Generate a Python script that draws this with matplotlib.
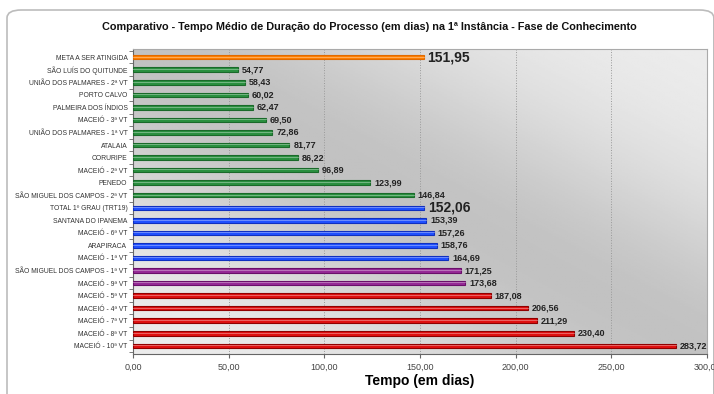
import matplotlib
matplotlib.use("Agg")
import matplotlib.pyplot as plt
import numpy as np
from matplotlib.patches import FancyBboxPatch

plt.rcParams["font.family"] = ["Liberation Sans", "DejaVu Sans"]

LABELS = [
    "META A SER ATINGIDA",
    "SÃO LUÍS DO QUITUNDE",
    "UNIÃO DOS PALMARES - 2ª VT",
    "PORTO CALVO",
    "PALMEIRA DOS ÍNDIOS",
    "MACEIÓ - 3ª VT",
    "UNIÃO DOS PALMARES - 1ª VT",
    "ATALAIA",
    "CORURIPE",
    "MACEIÓ - 2ª VT",
    "PENEDO",
    "SÃO MIGUEL DOS CAMPOS - 2ª VT",
    "TOTAL 1º GRAU (TRT19)",
    "SANTANA DO IPANEMA",
    "MACEIÓ - 6ª VT",
    "ARAPIRACA",
    "MACEIÓ - 1ª VT",
    "SÃO MIGUEL DOS CAMPOS - 1ª VT",
    "MACEIÓ - 9ª VT",
    "MACEIÓ - 5ª VT",
    "MACEIÓ - 4ª VT",
    "MACEIÓ - 7ª VT",
    "MACEIÓ - 8ª VT",
    "MACEIÓ - 10ª VT",
]
VALUES = [151.95, 54.77, 58.43, 60.02, 62.47, 69.50, 72.86, 81.77, 86.22, 96.89,
          123.99, 146.84, 152.06, 153.39, 157.26, 158.76, 164.69, 171.25, 173.68,
          187.08, 206.56, 211.29, 230.40, 283.72]
GROUPS = (["meta"] + ["green"] * 11 + ["blue"] * 5 + ["purple"] * 2 + ["red"] * 5)
HIGHLIGHT = {"META A SER ATINGIDA", "TOTAL 1º GRAU (TRT19)"}
XTICKS = [0, 50, 100, 150, 200, 250, 300]

COLORS = {
    "meta": ("#ff7f00", "#e06a00"),
    "green": ("#2a9040", "#1a6a2a"),
    "blue": ("#2050ff", "#1030c0"),
    "purple": ("#962a96", "#6a106a"),
    "red": ("#e01010", "#900000"),
}


def fmt(v):
    return f"{v:.2f}".replace(".", ",")


fig = plt.figure(figsize=(7.14, 3.94), dpi=100)
fig.patches.append(FancyBboxPatch((7 / 714, -0.05), 0.99, 1 - 10 / 394 + 0.05,
                                  boxstyle="round,pad=0,rounding_size=0.02",
                                  transform=fig.transFigure, facecolor="white",
                                  edgecolor="#bcbcbc", linewidth=1.2, zorder=-5))

ax = fig.add_axes([133 / 714, 1 - 354 / 394, 574 / 714, 305 / 394])

# diagonal gradient background
gx, gy = np.meshgrid(np.linspace(0, 1, 200), np.linspace(0, 1, 200))
u = (gx + gy) / 2
shade = 0.93 - 0.17 * np.exp(-((u - 0.5) ** 2) / 0.07)
ax.imshow(shade, cmap="gray", vmin=0, vmax=1, extent=[0, 300, -0.35 + len(LABELS), -0.65],
          aspect="auto", zorder=0, origin="lower")

y = np.arange(len(LABELS))
for yi, v, g in zip(y, VALUES, GROUPS):
    face, edge = COLORS[g]
    ax.barh(yi, v, height=0.36, color=face, edgecolor=edge, linewidth=0.8, zorder=3)
    ax.plot([0, v], [yi - 0.05, yi - 0.05], color="white", alpha=0.35, lw=0.7, zorder=4)

for yi, v, lab in zip(y, VALUES, LABELS):
    big = lab in HIGHLIGHT
    ax.text(v + 2, yi, fmt(v), va="center", ha="left", fontweight="bold",
            fontsize=10 if big else 6.5, color="#222222", zorder=5)

ax.set_xlim(0, 300)
ax.set_ylim(len(LABELS) - 0.35, -0.65)
ax.set_yticks(y)
ax.set_yticklabels(LABELS, fontsize=4.9, color="#333333")
ax.tick_params(axis="y", length=0, pad=4)
ax.set_yticks(np.arange(len(LABELS) + 1) - 0.5, minor=True)
ax.tick_params(axis="y", which="minor", length=3, color="#666666")
ax.set_xticks(XTICKS)
ax.set_xticklabels([fmt(t) for t in XTICKS], fontsize=6.5, color="#444444")
ax.tick_params(axis="x", length=3, color="#666666", pad=3)
ax.grid(axis="x", linestyle=":", color="#999999", linewidth=0.7, zorder=1)
for side in ["top", "right"]:
    ax.spines[side].set_color("#aaaaaa")
for side in ["left", "bottom"]:
    ax.spines[side].set_color("#666666")

ax.set_xlabel("Tempo (em dias)", fontsize=10, fontweight="bold", labelpad=2)
fig.text(369 / 714, 1 - 27 / 394,
         "Comparativo - Tempo Médio de Duração do Processo (em dias) na 1ª Instância - Fase de Conhecimento",
         ha="center", va="center", fontsize=7.8, fontweight="bold", color="#111111")

fig.savefig("out.png", dpi=100)
